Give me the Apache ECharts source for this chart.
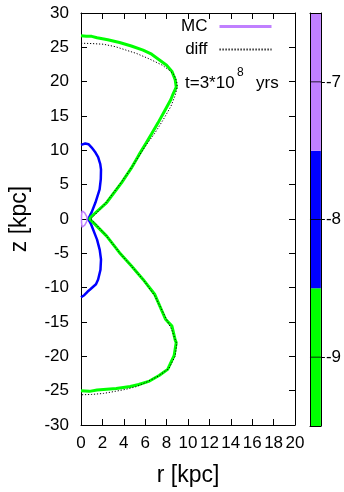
<!DOCTYPE html>
<html>
<head>
<meta charset="utf-8">
<script src="https://cdn.jsdelivr.net/npm/echarts@6/dist/echarts.min.js"></script>
<style>
  html, body { margin: 0; padding: 0; background: #fff; }
  #chart { width: 344px; height: 492px; }
</style>
</head>
<body>
<div id="chart"></div>
<script>
// contour lines, [r kpc, z kpc]
const mc9 = [
  [0, 26.7], [0.5, 26.6], [1.0, 26.6], [1.5, 26.4], [2.5, 26.1], [3.6, 25.7], [4.7, 25.2],
  [5.8, 24.6], [6.6, 24.0], [7.3, 23.2], [8.0, 22.4], [8.5, 21.5], [8.8, 20.3], [8.9, 19.2],
  [8.6, 18.2], [8.4, 17.4], [7.8, 15.7], [7.2, 14.0], [6.6, 12.4], [6.1, 11.1], [5.4, 9.3],
  [4.7, 7.4], [3.8, 5.3], [2.4, 2.4], [1.0, 0.4], [0.8, 0.0], [1.2, -0.6], [2.4, -2.5],
  [3.6, -4.9], [4.7, -6.8], [5.8, -8.8], [6.9, -11.0], [7.9, -14.6], [8.5, -15.6], [8.8, -17.6],
  [8.9, -18.0], [8.7, -19.9], [8.1, -21.9], [7.3, -22.8], [6.4, -23.6], [5.4, -24.1], [4.6, -24.4],
  [3.3, -24.7], [2.4, -24.8], [1.5, -24.9], [0.8, -25.1], [0, -25.0]
];
const diff9 = [
  [0, 25.6], [1.0, 25.55], [2.1, 25.45], [3.2, 25.1], [4.2, 24.6], [5.2, 24.1], [6.4, 23.3],
  [7.6, 22.4], [8.3, 21.6], [8.7, 21.0], [8.95, 20.0], [9.0, 19.2], [8.8, 18.0], [8.4, 16.4],
  [7.7, 14.5], [6.9, 12.5], [6.1, 10.8], [5.3, 8.9], [4.6, 7.2], [3.6, 5.0], [2.4, 2.5],
  [1.3, 0.6], [0.9, 0], [1.3, -0.6], [2.4, -2.5], [3.6, -4.9], [4.8, -7.0], [5.9, -9.0],
  [6.9, -11.2], [7.8, -14.0], [8.5, -16.2], [8.95, -18.2], [8.8, -20.0], [8.2, -21.8],
  [7.2, -22.9], [6.2, -23.7], [5.2, -24.4], [4.2, -24.8], [3.2, -25.1], [2.1, -25.4],
  [1.0, -25.55], [0, -25.6]
];
const mc8 = [
  [0, 10.8], [0.4, 11.0], [0.7, 10.9], [1.0, 10.4], [1.3, 9.8], [1.6, 9.0], [1.8, 8.0],
  [1.87, 7.2], [1.85, 5.8], [1.74, 4.3], [1.35, 2.4], [1.0, 1.0], [0.75, 0.2], [0.72, -0.1],
  [0.95, -0.8], [1.3, -2.2], [1.5, -3.0], [1.75, -4.5], [1.87, -5.9], [1.82, -7.4], [1.6, -8.8],
  [1.4, -9.5], [0.9, -10.2], [0.6, -10.6], [0.3, -11.1], [0, -11.4]
];
const mc7 = [
  [0.1, 1.2], [0.35, 0.9], [0.55, 0.3], [0.55, -0.3], [0.35, -0.9], [0.1, -1.2],
  [0.05, -0.5], [0.05, 0.5], [0.1, 1.2]
];

// colour bar levels (log density)
const cbLevels = ['-9', '-8', '-7'];
const cbValues = [1, 1, 1];
const cbColors = ['#00ff00', '#0000ff', '#c080ff'];

const font = "'Liberation Sans', Arial, sans-serif";
const chart = echarts.init(document.getElementById('chart'));

const mainX = {
  type: 'value', min: 0, max: 20, interval: 2, gridIndex: 0,
  axisLine: { show: true, onZero: false, lineStyle: { color: '#000', width: 1 } },
  axisTick: { show: true, inside: true, length: 6, lineStyle: { color: '#000' } },
  splitLine: { show: false }
};
const mainY = {
  type: 'value', min: -30, max: 30, interval: 5, gridIndex: 0,
  axisLine: { show: true, onZero: false, lineStyle: { color: '#000', width: 1 } },
  axisTick: { show: true, inside: true, length: 6, lineStyle: { color: '#000' } },
  splitLine: { show: false }
};

const option = {
  animation: false,
  backgroundColor: '#fff',
  textStyle: { fontFamily: font },
  grid: [
    { left: 77, top: 13, width: 218, height: 413 },
    { left: 310, top: 13, width: 11, height: 413 }
  ],
  xAxis: [
    Object.assign({}, mainX, {
      position: 'bottom',
      name: 'r [kpc]', nameLocation: 'middle', nameGap: 39,
      nameTextStyle: { fontSize: 23, color: '#000', fontFamily: font },
      axisLabel: { fontSize: 17, color: '#000', margin: 10, fontFamily: font }
    }),
    Object.assign({}, mainX, { position: 'top', axisLabel: { show: false } }),
    {
      type: 'value', min: 0, max: 1, gridIndex: 1, position: 'bottom', z: 10,
      axisLine: { show: true, onZero: false, lineStyle: { color: '#000' } },
      axisTick: { show: false }, axisLabel: { show: false }, splitLine: { show: false }
    },
    {
      type: 'value', min: 0, max: 1, gridIndex: 1, position: 'top', z: 10,
      axisLine: { show: true, onZero: false, lineStyle: { color: '#000' } },
      axisTick: { show: false }, axisLabel: { show: false }, splitLine: { show: false }
    }
  ],
  yAxis: [
    Object.assign({}, mainY, {
      position: 'left',
      name: 'z [kpc]', nameLocation: 'middle', nameGap: 50, nameRotate: 90,
      nameTextStyle: { fontSize: 23, color: '#000', fontFamily: font },
      axisLabel: { fontSize: 17, color: '#000', margin: 12, fontFamily: font }
    }),
    Object.assign({}, mainY, { position: 'right', axisLabel: { show: false } }),
    {
      type: 'category', data: cbLevels, gridIndex: 1, position: 'right', z: 10,
      axisLine: { show: true, onZero: false, lineStyle: { color: '#000' } },
      axisTick: { show: true, alignWithLabel: true, length: 4, lineStyle: { color: '#000' } },
      axisLabel: { fontSize: 17, color: '#000', margin: 5, fontFamily: font },
      splitLine: { show: false }
    },
    {
      type: 'category', data: cbLevels, gridIndex: 1, position: 'left', z: 10,
      axisLine: { show: true, onZero: false, lineStyle: { color: '#000' } },
      axisTick: { show: false },
      axisLabel: { show: false },
      splitLine: { show: false }
    }
  ],
  legend: {
    show: true,
    orient: 'vertical',
    align: 'right',
    right: 71,
    top: 18,
    padding: 0,
    itemWidth: 52,
    itemHeight: 12,
    itemGap: 6,
    selectedMode: false,
    itemStyle: { opacity: 0 },
    textStyle: { fontSize: 17, color: '#000', fontFamily: font, padding: [0, 7, 0, 0] },
    data: [
      { name: 'MC', lineStyle: { width: 3 } },
      { name: 'diff' }
    ]
  },
  graphic: [
    { type: 'text', left: 185, top: 75, style: { text: 't=3*10', fontSize: 17, fontFamily: font, fill: '#000' } },
    { type: 'text', left: 237, top: 67, style: { text: '8', fontSize: 12, fontFamily: font, fill: '#000' } },
    { type: 'text', left: 256, top: 75, style: { text: 'yrs', fontSize: 17, fontFamily: font, fill: '#000' } }
  ],
  series: [
    {
      name: 'MC', type: 'line', data: mc7, xAxisIndex: 0, yAxisIndex: 0,
      symbol: 'none', silent: true,
      lineStyle: { color: '#c080ff', width: 1.5 }, itemStyle: { color: '#c080ff' }, z: 3
    },
    {
      name: 'MC -8', type: 'line', data: mc8, xAxisIndex: 0, yAxisIndex: 0,
      symbol: 'none', silent: true,
      lineStyle: { color: '#0000ff', width: 2.5 }, itemStyle: { color: '#0000ff' }, z: 3
    },
    {
      name: 'MC -9', type: 'line', data: mc9, xAxisIndex: 0, yAxisIndex: 0,
      symbol: 'none', silent: true,
      lineStyle: { color: '#00ff00', width: 3 }, itemStyle: { color: '#00ff00' }, z: 3
    },
    {
      name: 'diff', type: 'line', data: diff9, xAxisIndex: 0, yAxisIndex: 0,
      symbol: 'none', silent: true,
      lineStyle: { color: '#000', width: 1, type: [1.2, 1.8] }, itemStyle: { color: '#000' }, z: 4
    },
    {
      name: 'colorbar', type: 'bar', xAxisIndex: 2, yAxisIndex: 2,
      barWidth: '100%', silent: true, z: 1,
      data: cbValues.map((v, i) => ({ value: v, itemStyle: { color: cbColors[i] } }))
    },
    {
      // tick marks across the colour bar
      name: 'cbticks', type: 'scatter', xAxisIndex: 2, yAxisIndex: 2,
      symbol: 'rect', symbolSize: [11, 1], silent: true, z: 5,
      itemStyle: { color: '#000' },
      data: cbLevels.map(l => [0.5, l])
    }
  ]
};

chart.setOption(option);
</script>
</body>
</html>
